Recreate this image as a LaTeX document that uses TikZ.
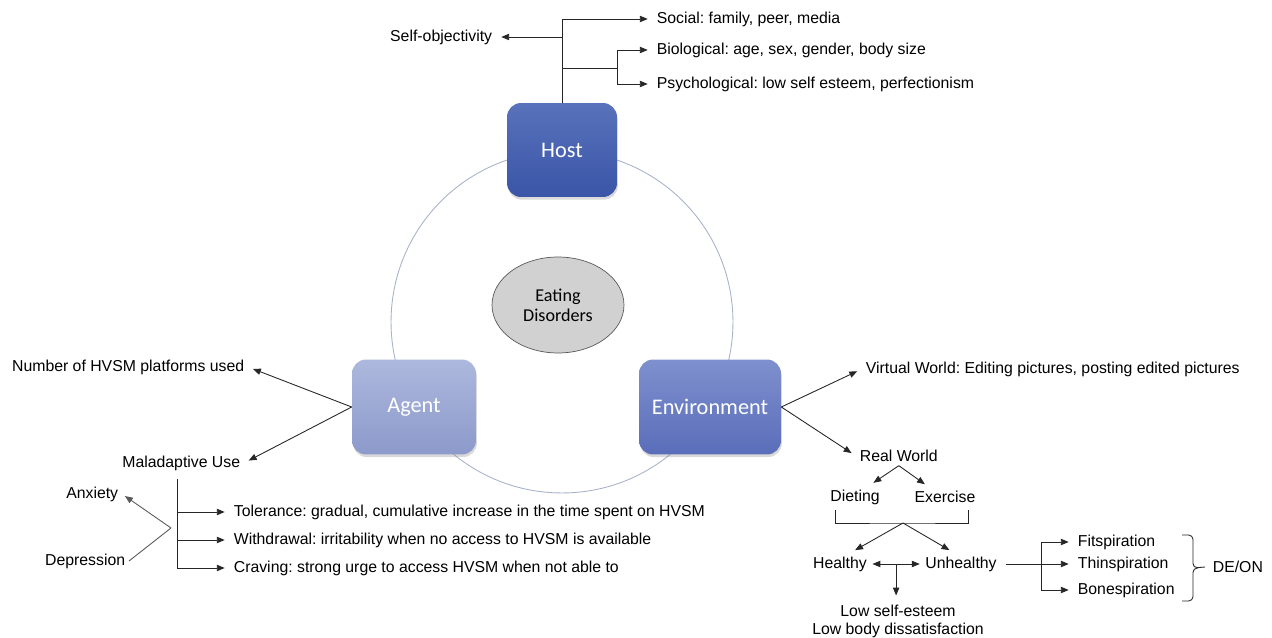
\documentclass[tikz,border=0pt]{standalone}
\usepackage{fontspec}
\setmainfont{Liberation Sans}
\newfontfamily\boxfont{Carlito}
\usetikzlibrary{arrows.meta,calc,shapes.geometric,shadows}
\frenchspacing

\definecolor{hostA}{HTML}{5872BB}
\definecolor{hostB}{HTML}{3A55A7}
\definecolor{agentA}{HTML}{ADB8DD}
\definecolor{agentB}{HTML}{8C9ACB}
\definecolor{envA}{HTML}{7F90CE}
\definecolor{envB}{HTML}{5A6DB9}
\definecolor{ringcol}{HTML}{A8B2CA}

\tikzset{
  factor/.style={rounded corners=8pt, minimum height=1.9cm, text=white,
    font=\boxfont\fontsize{12.7}{14}\selectfont,
    drop shadow={opacity=0.3,shadow xshift=0.5pt,shadow yshift=-1.5pt}},
  item/.style={inner sep=2pt, font=\fontsize{9}{10.2}\selectfont, text=black},
  link/.style={line width=0.5pt, draw=black!85},
  arr/.style={link, ->, shorten >=3pt},
}

\begin{document}
\begin{tikzpicture}[>={Triangle[length=4.5pt,width=3.6pt]}, x=0.02cm, y=-0.02cm]
  \useasboundingbox (0,0) rectangle (1272,638);
  % triad ring
  \draw[ringcol, line width=0.5pt] (562,322) circle[radius=3.42cm];
  \node[factor, top color=hostA, bottom color=hostB, minimum width=2.2cm, minimum height=1.88cm] (host) at (562,150) {Host};
  \node[factor, top color=agentA, bottom color=agentB, minimum width=2.48cm] (agent) at (414,407) {Agent};
  \node[factor, top color=envA, bottom color=envB, minimum width=2.84cm] (env) at (710,407) {Environment};
  \node[ellipse, draw=black!65, fill=black!18, minimum width=2.64cm, minimum height=1.92cm, align=center,
    font=\boxfont\fontsize{10.3}{11.5}\selectfont] (ed) at (558,305) {Eating\\Disorders};

  % host
  \node[item, anchor=west] (social) at (653,19) {Social: family, peer, media};
  \node[item, anchor=east] (selfobj) at (496,37) {Self-objectivity};
  \node[item, anchor=west] (bio) at (653,50) {Biological: age, sex, gender, body size};
  \node[item, anchor=west] (psych) at (653,84) {Psychological: low self esteem, perfectionism};
  \coordinate (htop) at (562,19);
  \coordinate (hfork) at (617,68);
  \draw[link] (host.north) -- (htop);
  \draw[arr] (htop) -- (social.west);
  \draw[arr] (host.north |- selfobj.east) -- (selfobj.east);
  \draw[link] (host.north |- hfork) -- (hfork);
  \draw[arr] (hfork) |- (bio.west);
  \draw[arr] (hfork) |- (psych.west);

  % agent
  \node[item, anchor=east] (nplat) at (248,367) {Number of HVSM platforms used};
  \node[item, anchor=east] (malad) at (244,463) {Maladaptive Use};
  \draw[arr] (agent.west) -- (nplat.east);
  \draw[arr] (agent.west) -- (malad.east);
  \node[item, anchor=west] (toler) at (230,512) {Tolerance: gradual, cumulative increase in the time spent on HVSM};
  \node[item, anchor=west] (withd) at (230,540) {Withdrawal: irritability when no access to HVSM is available};
  \node[item, anchor=west] (crav) at (230,568) {Craving: strong urge to access HVSM when not able to};
  \coordinate (mtop) at (177,479);
  \draw[arr] (mtop) |- (crav.west);
  \draw[arr] (mtop |- toler.west) -- (toler.west);
  \draw[arr] (mtop |- withd.west) -- (withd.west);
  \node[item, anchor=east] (anx) at (122,494) {Anxiety};
  \node[item, anchor=east] (dep) at (129,561) {Depression};
  \coordinate (adv) at (171,528);
  \draw[arr, draw=black!65, shorten >=2pt] (adv) -- (anx.east);
  \draw[link, draw=black!65] (adv) -- (dep.east);

  % environment
  \node[item, anchor=west] (virt) at (862,369) {Virtual World: Editing pictures, posting edited pictures};
  \node[item, anchor=west] (realw) at (856,456) {Real World};
  \draw[arr] (env.east) -- (virt.west);
  \draw[arr] (env.east) -- (realw.west);
  \node[item] (diet) at (855,497) {Dieting};
  \node[item] (exer) at (945,497) {Exercise};
  \draw[arr] (realw.south) -- ([xshift=8pt]diet.north);
  \draw[arr] (realw.south) -- ([xshift=-9pt]exer.north);
  \coordinate (bl) at (835,510);
  \coordinate (br) at (968,510);
  \coordinate (bmid) at (903,523);
  \draw[link] (bl) |- (bmid) -| (br);
  \node[item] (healthy) at (840,564) {Healthy};
  \node[item] (unhealthy) at (961,564) {Unhealthy};
  \draw[arr] (bmid) -- ([xshift=6pt]healthy.north);
  \draw[arr] (bmid) -- ([xshift=-4pt]unhealthy.north);
  \draw[link, <->, shorten <=1pt, shorten >=1pt] (healthy.east) -- (unhealthy.west);
  \coordinate (hu) at ($(healthy.east)!0.5!(unhealthy.west)$);
  \node[item, align=center] (lowse) at (898,621) {Low self-esteem\\Low body dissatisfaction};
  \draw[arr] (hu) -- (hu |- lowse.north);

  \node[item, anchor=west] (fitsp) at (1074,542) {Fitspiration};
  \node[item, anchor=west] (thinsp) at (1074,564) {Thinspiration};
  \node[item, anchor=west] (bonesp) at (1074,590) {Bonespiration};
  \coordinate (ufork) at (1041,564);
  \draw[arr, shorten <=3pt] (unhealthy.east) -- (thinsp.west);
  \draw[arr] (ufork) |- (fitsp.west);
  \draw[arr] (ufork) |- (bonesp.west);
  % square brace
  \coordinate (btop) at (1182,535);
  \coordinate (bbot) at (1182,601);
  \node[item, anchor=west] (deon) at (1209,567) {DE/ON};
  \draw[link, rounded corners=2.5pt] (btop) -- ++(11,0) -- ++(0,33) -- (deon.west -| 1205,0);
  \draw[link, rounded corners=2.5pt] (bbot) -- ++(11,0) -- ++(0,-33) -- ++(4,0);
\end{tikzpicture}
\end{document}
